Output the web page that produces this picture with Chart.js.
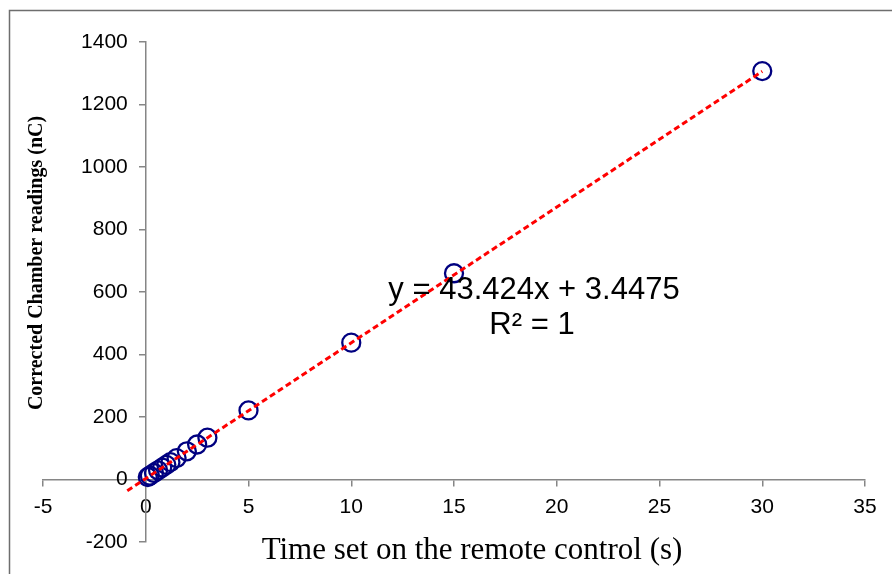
<!DOCTYPE html>
<html>
<head>
<meta charset="utf-8">
<script src="https://cdn.jsdelivr.net/npm/chart.js@4.4.1/dist/chart.umd.min.js"></script>
<style>
  html, body { margin: 0; padding: 0; background: #fff; }
  #wrap { position: relative; width: 892px; height: 574px; }
</style>
</head>
<body>
<div id="wrap"><canvas id="chart"></canvas></div>
<script>
// measured times (s) and corrected chamber readings (nC)
const timeSet = [0.1, 0.2, 0.4, 0.6, 0.8, 1, 1.2, 1.5, 2, 2.5, 3, 5, 10, 15, 30];
const readings = [7.8, 12.1, 20.8, 29.5, 38.2, 46.9, 55.6, 68.6, 90.3, 112, 133.7, 221, 438, 660, 1307];

// linear trendline end points (as drawn on the chart)
const trendX = [-0.9, 30];
const trendY = [-36, 1306];

const xTicks = [-5, 0, 5, 10, 15, 20, 25, 30, 35];
const yTicks = [-200, 0, 200, 400, 600, 800, 1000, 1200, 1400];

const eqText = "y = 43.424x + 3.4475";
const r2Text = "R\u00b2 = 1";
const xTitle = "Time set on the remote control (s)";
const yTitle = "Corrected Chamber readings (nC)";

const axisGrey = "#868686";
const tickFont = "'Liberation Sans', Arial, sans-serif";

const points = timeSet.map((t, i) => ({ x: t, y: readings[i] }));
const trend = trendX.map((t, i) => ({ x: t, y: trendY[i] }));

const extras = {
  id: "extras",
  afterDraw(chart) {
    const ctx = chart.ctx;
    const xs = chart.scales.x, ys = chart.scales.y;
    ctx.save();
    // outer frame (cut off at right and bottom)
    ctx.strokeStyle = "#6e6e6e";
    ctx.lineWidth = 1.5;
    ctx.strokeRect(9.5, 10.5, 900, 600);

    // y tick labels, left of the axis that crosses at x = 0
    const x0 = xs.getPixelForValue(0);
    ctx.fillStyle = "#000";
    ctx.font = "21px " + tickFont;
    ctx.textAlign = "right";
    ctx.textBaseline = "middle";
    yTicks.forEach(v => ctx.fillText(String(v), x0 - 18, ys.getPixelForValue(v)));

    ctx.textAlign = "center";
    ctx.font = "31px 'Liberation Sans', Arial, sans-serif";
    ctx.fillText(eqText, 534, 290);
    ctx.fillText(r2Text, 532, 325);

    ctx.font = "31px 'Liberation Serif', 'Times New Roman', serif";
    ctx.fillText(xTitle, 472, 551);

    ctx.translate(37, 263);
    ctx.rotate(-Math.PI / 2);
    ctx.font = "bold 20px 'Liberation Serif', 'Times New Roman', serif";
    ctx.fillText(yTitle, 0, 0);
    ctx.restore();
  }
};

new Chart(document.getElementById("chart"), {
  type: "scatter",
  data: {
    datasets: [{
      label: "Linear fit",
      data: trend,
      showLine: true,
      borderColor: "#ff0000",
      borderWidth: 3,
      borderDash: [6, 3.5],
      pointRadius: 0,
      fill: false,
      order: 0
    }, {
      label: "Readings",
      data: points,
      showLine: false,
      pointStyle: "circle",
      pointRadius: 9,
      pointBorderWidth: 2.3,
      pointBorderColor: "#000080",
      pointBackgroundColor: "rgba(0,0,0,0)",
      order: 1
    }]
  },
  options: {
    responsive: true,
    maintainAspectRatio: false,
    animation: false,
    layout: { padding: { left: 43, right: 27, top: 42, bottom: 32 } },
    plugins: {
      legend: { display: false },
      tooltip: { enabled: false }
    },
    scales: {
      x: {
        type: "linear",
        position: { y: 0 },
        min: xTicks[0],
        max: xTicks[xTicks.length - 1],
        afterBuildTicks: (s) => { s.ticks = xTicks.map(v => ({ value: v })); },
        ticks: {
          color: "#000",
          padding: 9,
          callback: (v) => String(v),
          font: { family: tickFont, size: 21 }
        },
        grid: { drawOnChartArea: false, drawTicks: true, tickLength: 6, color: axisGrey, lineWidth: 1.5 },
        border: { color: axisGrey, width: 1.5 }
      },
      y: {
        type: "linear",
        position: { x: 0 },
        min: yTicks[0],
        max: yTicks[yTicks.length - 1],
        afterBuildTicks: (s) => { s.ticks = yTicks.map(v => ({ value: v })); },
        ticks: { display: false },
        grid: { drawOnChartArea: false, drawTicks: true, tickLength: 6, color: axisGrey, lineWidth: 1.5 },
        border: { color: axisGrey, width: 1.5 }
      }
    }
  },
  plugins: [extras]
});
</script>
</body>
</html>
